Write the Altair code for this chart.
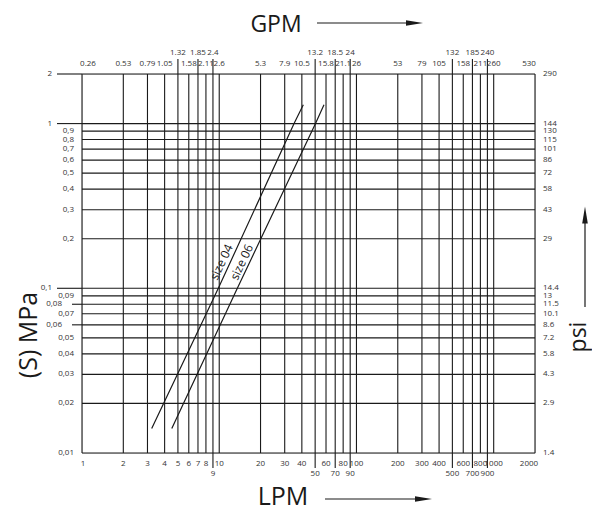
import altair as alt
import pandas as pd

# ---- data ----
lpm_ticks = [1, 2, 3, 4, 5, 6, 7, 8, 9, 10, 20, 30, 40, 50, 60, 70, 80, 90, 100,
             200, 300, 400, 500, 600, 700, 800, 900, 1000, 2000]
lpm_labels = [str(v) for v in lpm_ticks]
gpm_labels = ["0.26", "0.53", "0.79", "1.05", "1.32", "1.58", "1.85", "2.11", "2.4", "2.6",
              "5.3", "7.9", "10.5", "13.2", "15.8", "18.5", "21.1", "24", "26",
              "53", "79", "105", "132", "158", "185", "211", "240", "260", "530"]
gpm_raised = ["1.32", "1.85", "2.4", "13.2", "18.5", "24", "132", "185", "240"]
lpm_lowered = [9, 50, 70, 90, 500, 700, 900]

mpa_ticks = [2, 1, 0.9, 0.8, 0.7, 0.6, 0.5, 0.4, 0.3, 0.2,
             0.1, 0.09, 0.08, 0.07, 0.06, 0.05, 0.04, 0.03, 0.02, 0.01]
mpa_labels = ["2", "1", "0,9", "0,8", "0,7", "0,6", "0,5", "0,4", "0,3", "0,2",
              "0,1", "0,09", "0,08", "0,07", "0,06", "0,05", "0,04", "0,03", "0,02", "0,01"]
psi_labels = ["290", "144", "130", "115", "101", "86", "72", "58", "43", "29",
              "14.4", "13", "11.5", "10.1", "8.6", "7.2", "5.8", "4.3", "2.9", "1.4"]
mpa_long = [2, 1, 0.1]
mpa_mid = [0.08, 0.06]

size04_lpm = [3.22, 9.85, 35.1, 41.0]
size04_mpa = [0.0141, 0.1, 1.0, 1.30]
size06_lpm = [4.51, 13.55, 50.3, 58.0]
size06_mpa = [0.0141, 0.1, 1.0, 1.30]
series_names = ["size 04", "size 06"]
label_lpm = [10.4, 14.6]
label_mpa = [0.144, 0.144]

# ---- layout ----
W, H = 453, 379
FONT = "Open Sans"
TICKFONT = "Open Sans"
TICKSIZE = 8
INK = "#1a1a1a"
TXT = "#333333"

xs = alt.Scale(type="log", domain=[1, 2000], nice=False)
ys = alt.Scale(type="log", domain=[0.01, 2], nice=False)

dfx = pd.DataFrame({"lpm": lpm_ticks, "lpm_label": lpm_labels, "gpm_label": gpm_labels})
dfx["raised"] = dfx["gpm_label"].isin(gpm_raised)
dfx["lowered"] = dfx["lpm"].isin(lpm_lowered)

dfy = pd.DataFrame({"mpa": mpa_ticks, "mpa_label": mpa_labels, "psi_label": psi_labels})
dfy["kind"] = ["long" if v in mpa_long else ("mid" if v in mpa_mid else "normal") for v in mpa_ticks]

lines = pd.concat([
    pd.DataFrame({"lpm": size04_lpm, "mpa": size04_mpa, "series": series_names[0]}),
    pd.DataFrame({"lpm": size06_lpm, "mpa": size06_mpa, "series": series_names[1]}),
])
labels = pd.DataFrame({"lpm": label_lpm, "mpa": label_mpa, "series": series_names})
dummy = pd.DataFrame({"a": [0]})

X = alt.X("lpm:Q", scale=xs, axis=None)
Y = alt.Y("mpa:Q", scale=ys, axis=None)

layers = []

# vertical grid lines
layers.append(alt.Chart(dfx).mark_rule(color=INK, strokeWidth=1.1).encode(
    x=X, y=alt.value(0), y2=alt.value(H)))
layers.append(alt.Chart(dfx[dfx["raised"]]).mark_rule(color=INK, strokeWidth=1.1).encode(
    x=X, y=alt.value(-15), y2=alt.value(0)))
layers.append(alt.Chart(dfx[dfx["lowered"]]).mark_rule(color=INK, strokeWidth=1.1).encode(
    x=X, y=alt.value(H), y2=alt.value(H + 15)))

# horizontal grid lines
layers.append(alt.Chart(dfy).mark_rule(color=INK, strokeWidth=1.1).encode(
    y=Y, x=alt.value(0), x2=alt.value(W)))
layers.append(alt.Chart(dfy[dfy["kind"] == "long"]).mark_rule(color=INK, strokeWidth=1.1).encode(
    y=Y, x=alt.value(-25), x2=alt.value(0)))
layers.append(alt.Chart(dfy[dfy["kind"] == "mid"]).mark_rule(color=INK, strokeWidth=1.1).encode(
    y=Y, x=alt.value(-10), x2=alt.value(0)))


def xtext(frame, field, yv, dx=0):
    return alt.Chart(frame).mark_text(font=TICKFONT, fontSize=TICKSIZE, color=TXT, dx=dx,
                                      baseline="middle", align="center").encode(
        x=X, y=alt.value(yv), text=f"{field}:N")


inner = dfx[(dfx["lpm"] != 1) & (dfx["lpm"] != 2000)]
# top GPM labels
layers.append(xtext(inner[~inner["raised"]], "gpm_label", -10))
layers.append(xtext(inner[inner["raised"]], "gpm_label", -21))
layers.append(xtext(dfx[dfx["lpm"] == 1], "gpm_label", -10, dx=6))
layers.append(xtext(dfx[dfx["lpm"] == 2000], "gpm_label", -10, dx=-6))
# bottom LPM labels
layers.append(xtext(inner[~inner["lowered"]], "lpm_label", H + 11))
layers.append(xtext(inner[inner["lowered"]], "lpm_label", H + 21))
layers.append(xtext(dfx[dfx["lpm"] == 1], "lpm_label", H + 11, dx=1))
layers.append(xtext(dfx[dfx["lpm"] == 2000], "lpm_label", H + 11, dx=-6))


def ytext(frame, field, xv, align):
    return alt.Chart(frame).mark_text(font=TICKFONT, fontSize=TICKSIZE, color=TXT,
                                      baseline="middle", align=align).encode(
        y=Y, x=alt.value(xv), text=f"{field}:N")


layers.append(ytext(dfy[dfy["kind"] == "normal"], "mpa_label", -8, "right"))
layers.append(ytext(dfy[dfy["kind"] == "long"], "mpa_label", -30, "right"))
layers.append(ytext(dfy[dfy["kind"] == "mid"], "mpa_label", -20, "right"))
layers.append(ytext(dfy, "psi_label", W + 8, "left"))

# curves
layers.append(alt.Chart(lines).mark_line(color=INK, strokeWidth=1.2, clip=True).encode(
    x=X, y=Y, detail="series:N"))
layers.append(alt.Chart(labels).mark_text(font=FONT, fontSize=12, color=INK, angle=295,
                                          align="center", baseline="middle").encode(
    x=X, y=Y, text="series:N"))


# titles and arrows
def title(text, xv, yv, size, angle=0):
    kw = dict(font=FONT, fontSize=size, color=INK, align="center", baseline="middle")
    if angle:
        kw["angle"] = angle
    return alt.Chart(dummy).mark_text(**kw).encode(
        x=alt.value(xv), y=alt.value(yv), text=alt.value(text))


layers.append(title("GPM", 194, -49, 23))
layers.append(title("LPM", 201, 423, 25))
layers.append(title("(S) MPa", -53, 261, 25, angle=270))
layers.append(title("psi", 497, 263, 23, angle=270))

layers.append(alt.Chart(dummy).mark_rule(color=INK, strokeWidth=1.2).encode(
    x=alt.value(235), x2=alt.value(330), y=alt.value(-51)))
layers.append(alt.Chart(dummy).mark_rule(color=INK, strokeWidth=1.2).encode(
    x=alt.value(243), x2=alt.value(340), y=alt.value(425)))
layers.append(alt.Chart(dummy).mark_rule(color=INK, strokeWidth=1.2).encode(
    x=alt.value(503), y=alt.value(145), y2=alt.value(233)))

RIGHT = "M-1,-0.33L1,0L-1,0.33Z"
UP = "M-0.33,1L0,-1L0.33,1Z"
layers.append(alt.Chart(dummy).mark_point(shape=RIGHT, filled=True, color=INK, size=289, opacity=1).encode(
    x=alt.value(332.5), y=alt.value(-51)))
layers.append(alt.Chart(dummy).mark_point(shape=RIGHT, filled=True, color=INK, size=289, opacity=1).encode(
    x=alt.value(341.5), y=alt.value(425)))
layers.append(alt.Chart(dummy).mark_point(shape=UP, filled=True, color=INK, size=289, opacity=1).encode(
    x=alt.value(503), y=alt.value(141)))

chart = alt.layer(*layers).properties(
    width=W, height=H,
    padding={"left": 74, "top": 66, "right": 57, "bottom": 61},
    autosize=alt.AutoSizeParams(type="none"),
).configure_view(stroke=None).configure(background="white")

chart.save("out.html", embed_options={"renderer": "svg", "actions": False})
